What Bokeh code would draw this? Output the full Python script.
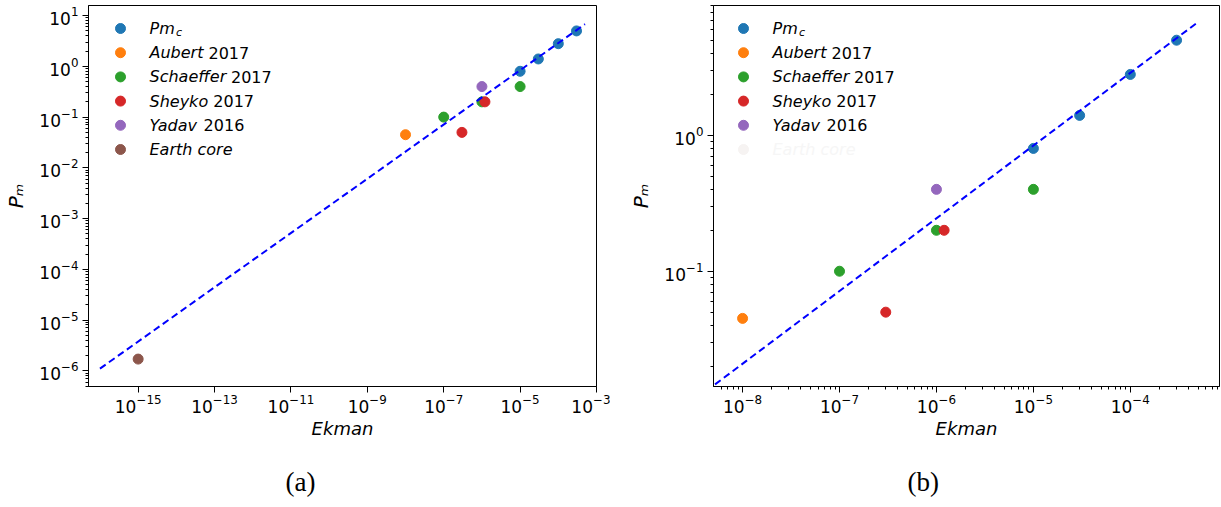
from math import log10
from bokeh.plotting import figure
from bokeh.models import Range1d, FixedTicker, LogTickFormatter, Label, Title
from bokeh.layouts import row
from bokeh.embed import file_html
from bokeh.resources import INLINE

# ---------------- data ----------------
ek_pmc = [1e-5, 3e-5, 1e-4, 3e-4]
pm_pmc = [0.8, 1.4, 2.8, 5.0]
ek_aubert = [1e-8]
pm_aubert = [0.045]
ek_schaeffer = [1e-7, 1e-6, 1e-5]
pm_schaeffer = [0.1, 0.2, 0.4]
ek_sheyko = [3e-7, 1.2e-6]
pm_sheyko = [0.05, 0.2]
ek_yadav = [1e-6]
pm_yadav = [0.4]
ek_earth = [1e-15]
pm_earth = [1.7e-6]
ek_fit = [1e-16, 5e-4]
pm_fit = [1.1e-6, 6.8]

legend_names = ["Pm", "Aubert", "Schaeffer", "Sheyko", "Yadav", "Earth core"]
legend_years = ["", "2017", "2017", "2017", "2016", ""]
colors = ["#1f77b4", "#ff7f0e", "#2ca02c", "#d62728", "#9467bd", "#8c564b"]

xticks_a = [1e-15, 1e-13, 1e-11, 1e-9, 1e-7, 1e-5, 1e-3]
yticks_a = [1e-6, 1e-5, 1e-4, 1e-3, 1e-2, 1e-1, 1e0, 1e1]
xticks_b = [1e-8, 1e-7, 1e-6, 1e-5, 1e-4]
yticks_b = [1e-1, 1e0]

series = [
    (ek_pmc, pm_pmc),
    (ek_aubert, pm_aubert),
    (ek_schaeffer, pm_schaeffer),
    (ek_sheyko, pm_sheyko),
    (ek_yadav, pm_yadav),
    (ek_earth, pm_earth),
]

# ---------------- layout constants ----------------
FONT = "DejaVu Sans"
CANVAS_H = 507
TOP = 5
FRAME_H = 381
BOTTOM = CANVAS_H - TOP - FRAME_H
year_dx = [0, 59.0, 81.5, 63.8, 54.1, 0]


def minor_list(e0, e1, lo, hi):
    out = []
    for e in range(e0, e1 + 1):
        for k in range(2, 10):
            v = k * 10.0 ** e
            if lo <= v <= hi:
                out.append(v)
    return out


def make_panel(xr, yr, xt, xminor, yt, yminor, canvas_w, left, right, caption,
               fade_last, mk_dx, txt_dx, cap_dx):
    W = canvas_w - left - right
    H = FRAME_H
    p = figure(width=canvas_w, height=CANVAS_H, x_axis_type="log", y_axis_type="log",
               x_range=Range1d(*xr), y_range=Range1d(*yr),
               output_backend="svg", toolbar_location=None,
               min_border_left=left, min_border_right=right,
               min_border_top=TOP, min_border_bottom=BOTTOM)
    p.xgrid.visible = False
    p.ygrid.visible = False
    p.outline_line_color = "black"
    p.outline_line_width = 1
    p.background_fill_color = "white"
    p.border_fill_color = "white"

    p.xaxis.ticker = FixedTicker(ticks=xt, minor_ticks=xminor)
    p.yaxis.ticker = FixedTicker(ticks=yt, minor_ticks=yminor)
    for ax in (p.xaxis[0], p.yaxis[0]):
        ax.formatter = LogTickFormatter()
        ax.axis_line_color = "black"
        ax.major_tick_line_color = "black"
        ax.minor_tick_line_color = "black"
        ax.major_tick_in = 0
        ax.major_tick_out = 6
        ax.minor_tick_in = 0
        ax.minor_tick_out = 3
        ax.major_label_text_font = FONT
        ax.major_label_text_font_size = "17px"
        ax.major_label_text_color = "black"
        ax.axis_label_text_font = FONT
        ax.axis_label_text_font_style = "italic"
        ax.axis_label_text_color = "black"
    p.xaxis.major_label_standoff = 1
    p.yaxis.major_label_standoff = 4
    p.xaxis.axis_label = "Ekman"
    p.xaxis.axis_label_text_font_size = "18px"
    p.xaxis.axis_label_standoff = 2
    p.yaxis.axis_label = "P\u2098"
    p.yaxis.axis_label_text_font_size = "20px"
    p.yaxis.axis_label_standoff = 8

    lx0, lx1 = log10(xr[0]), log10(xr[1])
    ly0, ly1 = log10(yr[0]), log10(yr[1])

    def fx(px):
        return 10 ** (lx0 + px / W * (lx1 - lx0))

    def fy(px_from_top):
        return 10 ** (ly1 - px_from_top / H * (ly1 - ly0))

    # data
    for (xs, ys), c in zip(series, colors):
        p.scatter(xs, ys, size=10, color=c, line_color=c)
    p.line(ek_fit, pm_fit, line_color="blue", line_width=2, line_dash="7 4")

    # legend
    for i, (name, year, c) in enumerate(zip(legend_names, legend_years, colors)):
        ty = 23 + i * 24.2
        tcol = "black"
        mcol = c
        if fade_last and i == len(legend_names) - 1:
            tcol = "#f6f6f6"
            mcol = "#f6f3f2"
        p.scatter([fx(mk_dx)], [fy(ty)], size=10, color=mcol, line_color=mcol)
        p.add_layout(Label(x=fx(txt_dx), y=fy(ty), text=name, text_font=FONT,
                           text_font_style="italic", text_font_size="16px",
                           text_baseline="middle", text_color=tcol))
        if i == 0:
            p.add_layout(Label(x=fx(txt_dx + 26.5), y=fy(ty + 4), text="c", text_font=FONT,
                               text_font_style="italic", text_font_size="11px",
                               text_baseline="middle", text_color=tcol))
        if year:
            p.add_layout(Label(x=fx(txt_dx + year_dx[i]), y=fy(ty), text=year,
                               text_font=FONT, text_font_size="16px",
                               text_baseline="middle", text_color=tcol))

    # spacer + caption below
    spacer = Title(text="\u00a0", text_font=FONT, text_font_size="10px",
                   text_color="white", standoff=0)
    p.add_layout(spacer, "below")
    cap = Title(text=caption, text_font="Liberation Serif", text_font_size="27px",
                text_font_style="normal", text_color="black", align="left",
                offset=cap_dx, standoff=20)
    p.add_layout(cap, "below")
    return p


xr_a = (10 ** -16.3, 1e-3)
yr_a = (10 ** -6.31, 10 ** 1.2)
xr_b = (10 ** -8.3, 10 ** -3.08)
yr_b = (0.0142, 9.0)

pa = make_panel(xr_a, yr_a, xticks_a, [], yticks_a, minor_list(-7, 1, *yr_a),
                610, 88, 14, "(a)", False, 32, 61, 197)
pb = make_panel(xr_b, yr_b, xticks_b, minor_list(-9, -3, *xr_b), yticks_b,
                minor_list(-2, 0, *yr_b), 611, 103, 2, "(b)", True, 30, 59, 194)

layout = row(pa, pb)
open("out.html", "w").write(file_html(layout, INLINE))
